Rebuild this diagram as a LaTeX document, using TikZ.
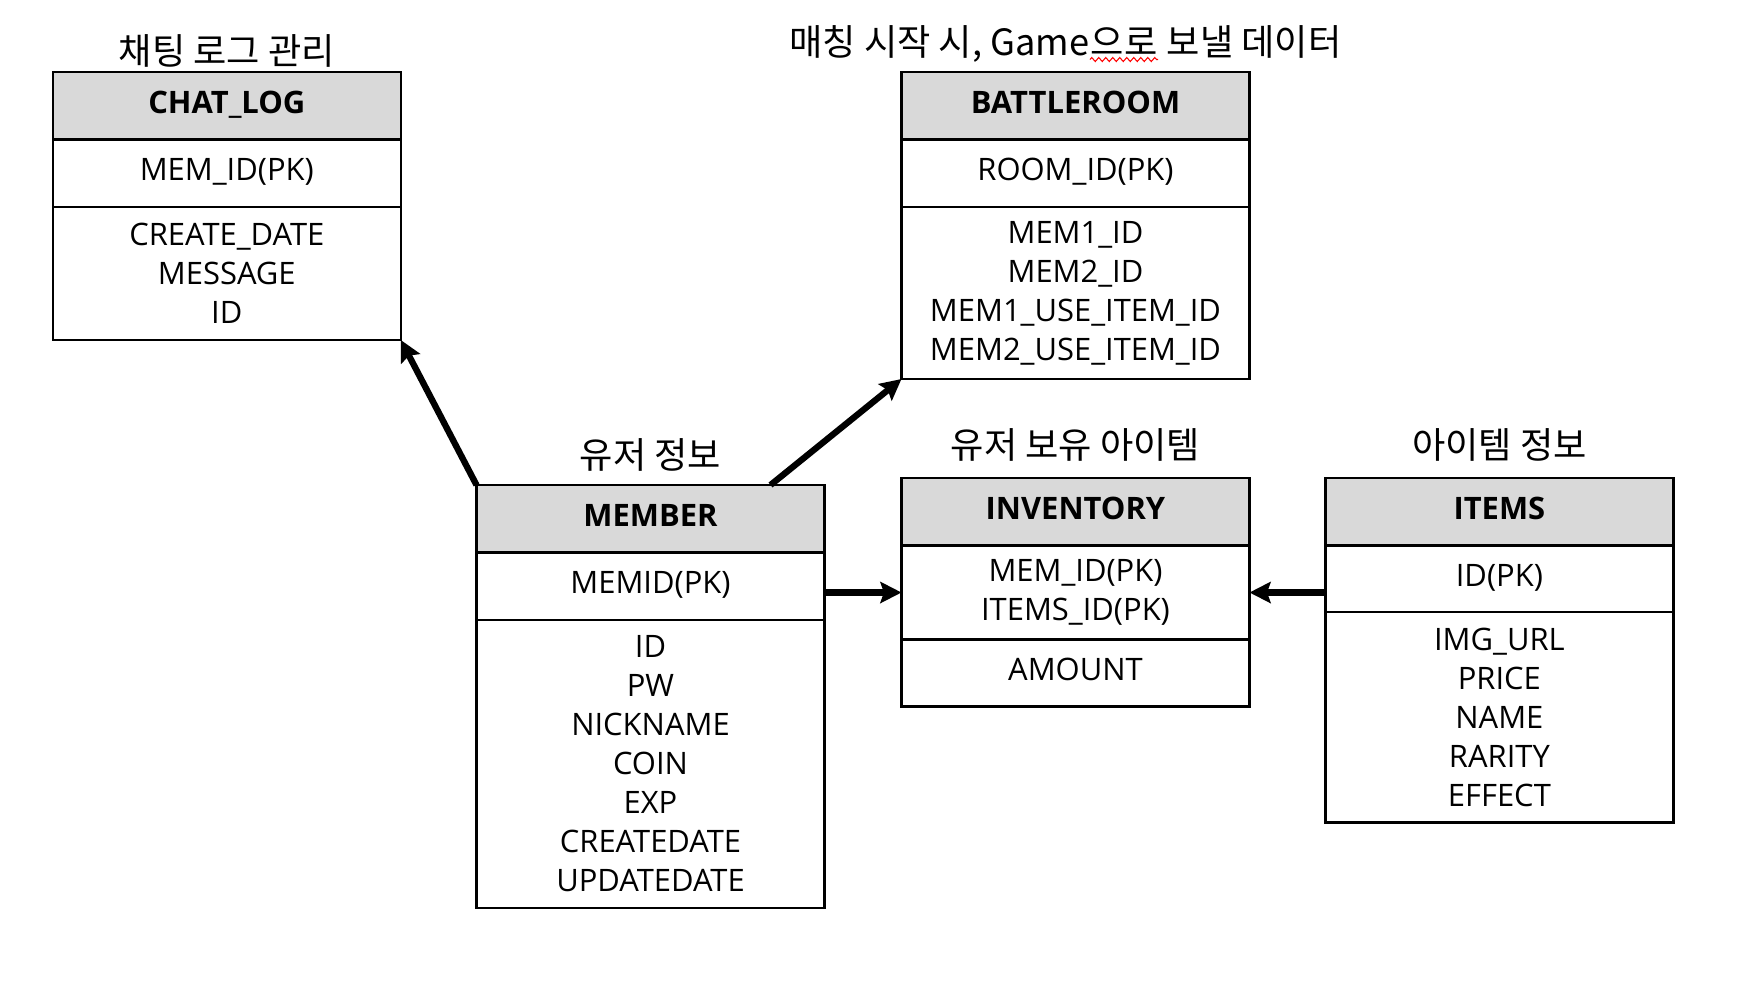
\documentclass[tikz,border=0pt]{standalone}
\usepackage{fontspec}
\setmainfont{Open Sans}
\newfontfamily\krfont{Noto Sans CJK KR}
\usepackage{tikz}
\usetikzlibrary{positioning, arrows.meta, decorations.pathmorphing}

\definecolor{hdrgray}{HTML}{D9D9D9}

\tikzset{
  tbl/.style={draw, line width=0.7pt, minimum width=3.48cm, inner sep=0pt, outer sep=0pt,
    align=center, font=\fontsize{8.8}{11.1}\selectfont},
  hdr/.style={tbl, fill=hdrgray, minimum height=0.675cm, text height=6.4pt, text depth=2pt,
    font=\fontsize{8.8}{11.1}\selectfont\bfseries},
  keyrow/.style={tbl, minimum height=0.675cm, text height=6.4pt, text depth=2pt},
  fldrow/.style={tbl},
  ttl/.style={inner sep=0pt, font=\krfont\fontsize{10.3}{12}\selectfont},
  link/.style={line width=1.8pt, -{Stealth[length=6pt,width=6pt,inset=1pt]}},
  squiggle/.style={red, line width=0.3pt, decorate, decoration={zigzag, amplitude=0.02cm, segment length=0.07cm}}
}

\begin{document}
\begin{tikzpicture}
\useasboundingbox (0,0) rectangle (17.54,-9.86);

% CHAT_LOG
\node[hdr, anchor=north west] (chat-h) at (0.528,-0.72) {CHAT\_LOG};
\node[keyrow, below=0pt of chat-h] (chat-k) {MEM\_ID(PK)};
\node[fldrow, below=0pt of chat-k, minimum height=1.33cm] (chat-f) {CREATE\_DATE\\MESSAGE\\ID};
\node[ttl, above=0.04cm of chat-h] (chat-t) {채팅 로그 관리};

% BATTLEROOM
\node[hdr, anchor=north west] (battle-h) at (9.015,-0.72) {BATTLEROOM};
\node[keyrow, below=0pt of battle-h] (battle-k) {ROOM\_ID(PK)};
\node[fldrow, below=0pt of battle-k, minimum height=1.72cm] (battle-f) {MEM1\_ID\\MEM2\_ID\\MEM1\_USE\_ITEM\_ID\\MEM2\_USE\_ITEM\_ID};
\node[ttl, anchor=base west] (battle-t2) at (10.9,-0.55) {으로};
\node[ttl, anchor=base east] (battle-t1) at (battle-t2.base west) {매칭 시작 시, Game};
\node[ttl, anchor=base west] (battle-t3) at (battle-t2.base east) {\ 보낼 데이터};
\draw[squiggle] ([yshift=-0.045cm]battle-t2.base west) -- ([yshift=-0.045cm]battle-t2.base east);

% MEMBER
\node[hdr, anchor=north west] (mem-h) at (4.765,-4.85) {MEMBER};
\node[keyrow, below=0pt of mem-h] (mem-k) {MEMID(PK)};
\node[fldrow, below=0pt of mem-k, minimum height=2.88cm] (mem-f) {ID\\PW\\NICKNAME\\COIN\\EXP\\CREATEDATE\\UPDATEDATE};
\node[ttl, above=0.13cm of mem-h] (mem-t) {유저 정보};

% INVENTORY
\node[hdr, anchor=north west] (inv-h) at (9.015,-4.78) {INVENTORY};
\node[fldrow, below=0pt of inv-h, minimum height=0.94cm] (inv-k) {MEM\_ID(PK)\\ITEMS\_ID(PK)};
\node[keyrow, below=0pt of inv-k, minimum height=0.67cm] (inv-f) {AMOUNT};
\node[ttl, above=0.16cm of inv-h] (inv-t) {유저 보유 아이템};

% ITEMS
\node[hdr, anchor=north west] (items-h) at (13.254,-4.78) {ITEMS};
\node[keyrow, below=0pt of items-h, minimum height=0.667cm] (items-k) {ID(PK)};
\node[fldrow, below=0pt of items-k, minimum height=2.103cm] (items-f) {IMG\_URL\\PRICE\\NAME\\RARITY\\EFFECT};
\node[ttl, above=0.16cm of items-h] (items-t) {아이템 정보};

% links
\draw[link] (mem-h.north west) -- (chat-f.south east);
\draw[link] ([xshift=-0.54cm]mem-h.north east) -- (battle-f.south west);
\draw[link] (inv-k.west -| mem-k.east) -- (inv-k.west);
\draw[link] (inv-k.east -| items-k.west) -- (inv-k.east);
\end{tikzpicture}
\end{document}
